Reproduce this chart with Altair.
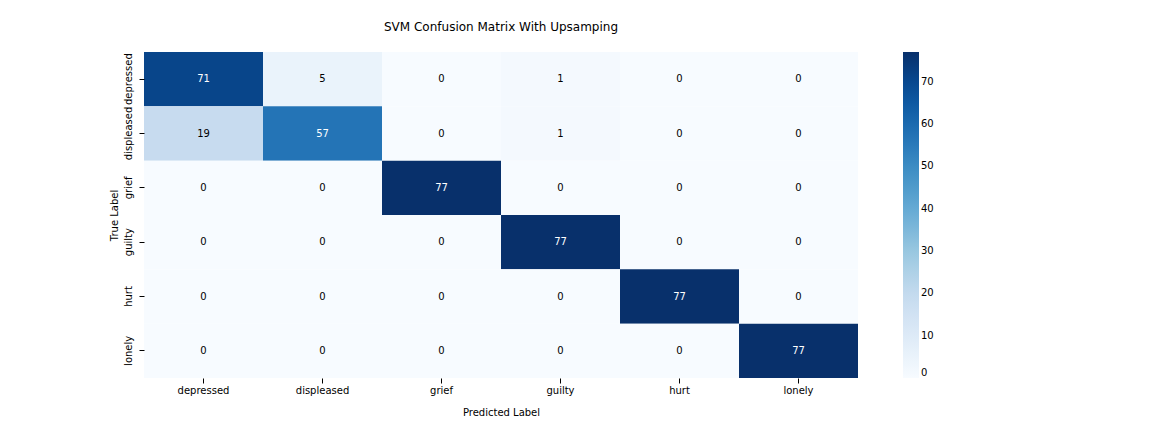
import altair as alt
import pandas as pd

labels = ["depressed", "displeased", "grief", "guilty", "hurt", "lonely"]
counts = [
    [71, 5, 0, 1, 0, 0],
    [19, 57, 0, 1, 0, 0],
    [0, 0, 77, 0, 0, 0],
    [0, 0, 0, 77, 0, 0],
    [0, 0, 0, 0, 77, 0],
    [0, 0, 0, 0, 0, 77],
]
# matplotlib "Blues"
blues = ["#f7fbff", "#deebf7", "#c6dbef", "#9ecae1", "#6baed6",
         "#4292c6", "#2171b5", "#08519c", "#08306b"]

rows = []
for i, t in enumerate(labels):
    for j, p in enumerate(labels):
        rows.append({"true": t, "pred": p, "n": counts[i][j]})
df = pd.DataFrame(rows)

base = alt.Chart(df)
font = "DejaVu Sans"

cells = base.mark_rect(strokeWidth=0).encode(
    x=alt.X("pred:N", sort=labels, title="Predicted Label",
            axis=alt.Axis(labelAngle=0, domain=False, titlePadding=12)),
    y=alt.Y("true:N", sort=labels, title="True Label",
            axis=alt.Axis(labelAngle=270, labelAlign="center", labelBaseline="bottom",
                          labelPadding=6, domain=False, titlePadding=4)),
    color=alt.Color("n:Q",
                    scale=alt.Scale(domain=[0, 77], range=blues, interpolate="rgb"),
                    legend=alt.Legend(title=None, orient="none", legendX=759, legendY=0,
                                      gradientLength=326, gradientThickness=16,
                                      values=[0, 10, 20, 30, 40, 50, 60, 70],
                                      labelFontSize=10, labelFont=font,
                                      labelColor="black")),
)

text = base.mark_text(fontSize=10, font=font).encode(
    x=alt.X("pred:N", sort=labels),
    y=alt.Y("true:N", sort=labels),
    text="n:Q",
    color=alt.condition(alt.datum.n > 40, alt.value("white"), alt.value("black")),
)

chart = (cells + text).properties(
    width=714, height=326,
    title=alt.TitleParams("SVM Confusion Matrix With Upsamping", fontSize=12,
                          fontWeight="normal", font=font, offset=18),
    autosize=alt.AutoSizeParams(type="none"),
    padding={"left": 136, "top": 44, "right": 286, "bottom": 46},
).configure_view(stroke=None).configure_axis(
    labelFont=font, titleFont=font, labelFontSize=10, titleFontSize=10,
    titleFontWeight="normal", labelColor="black", titleColor="black", tickColor="black",
)

chart.save("out.html", embed_options={"renderer": "svg", "actions": False})
